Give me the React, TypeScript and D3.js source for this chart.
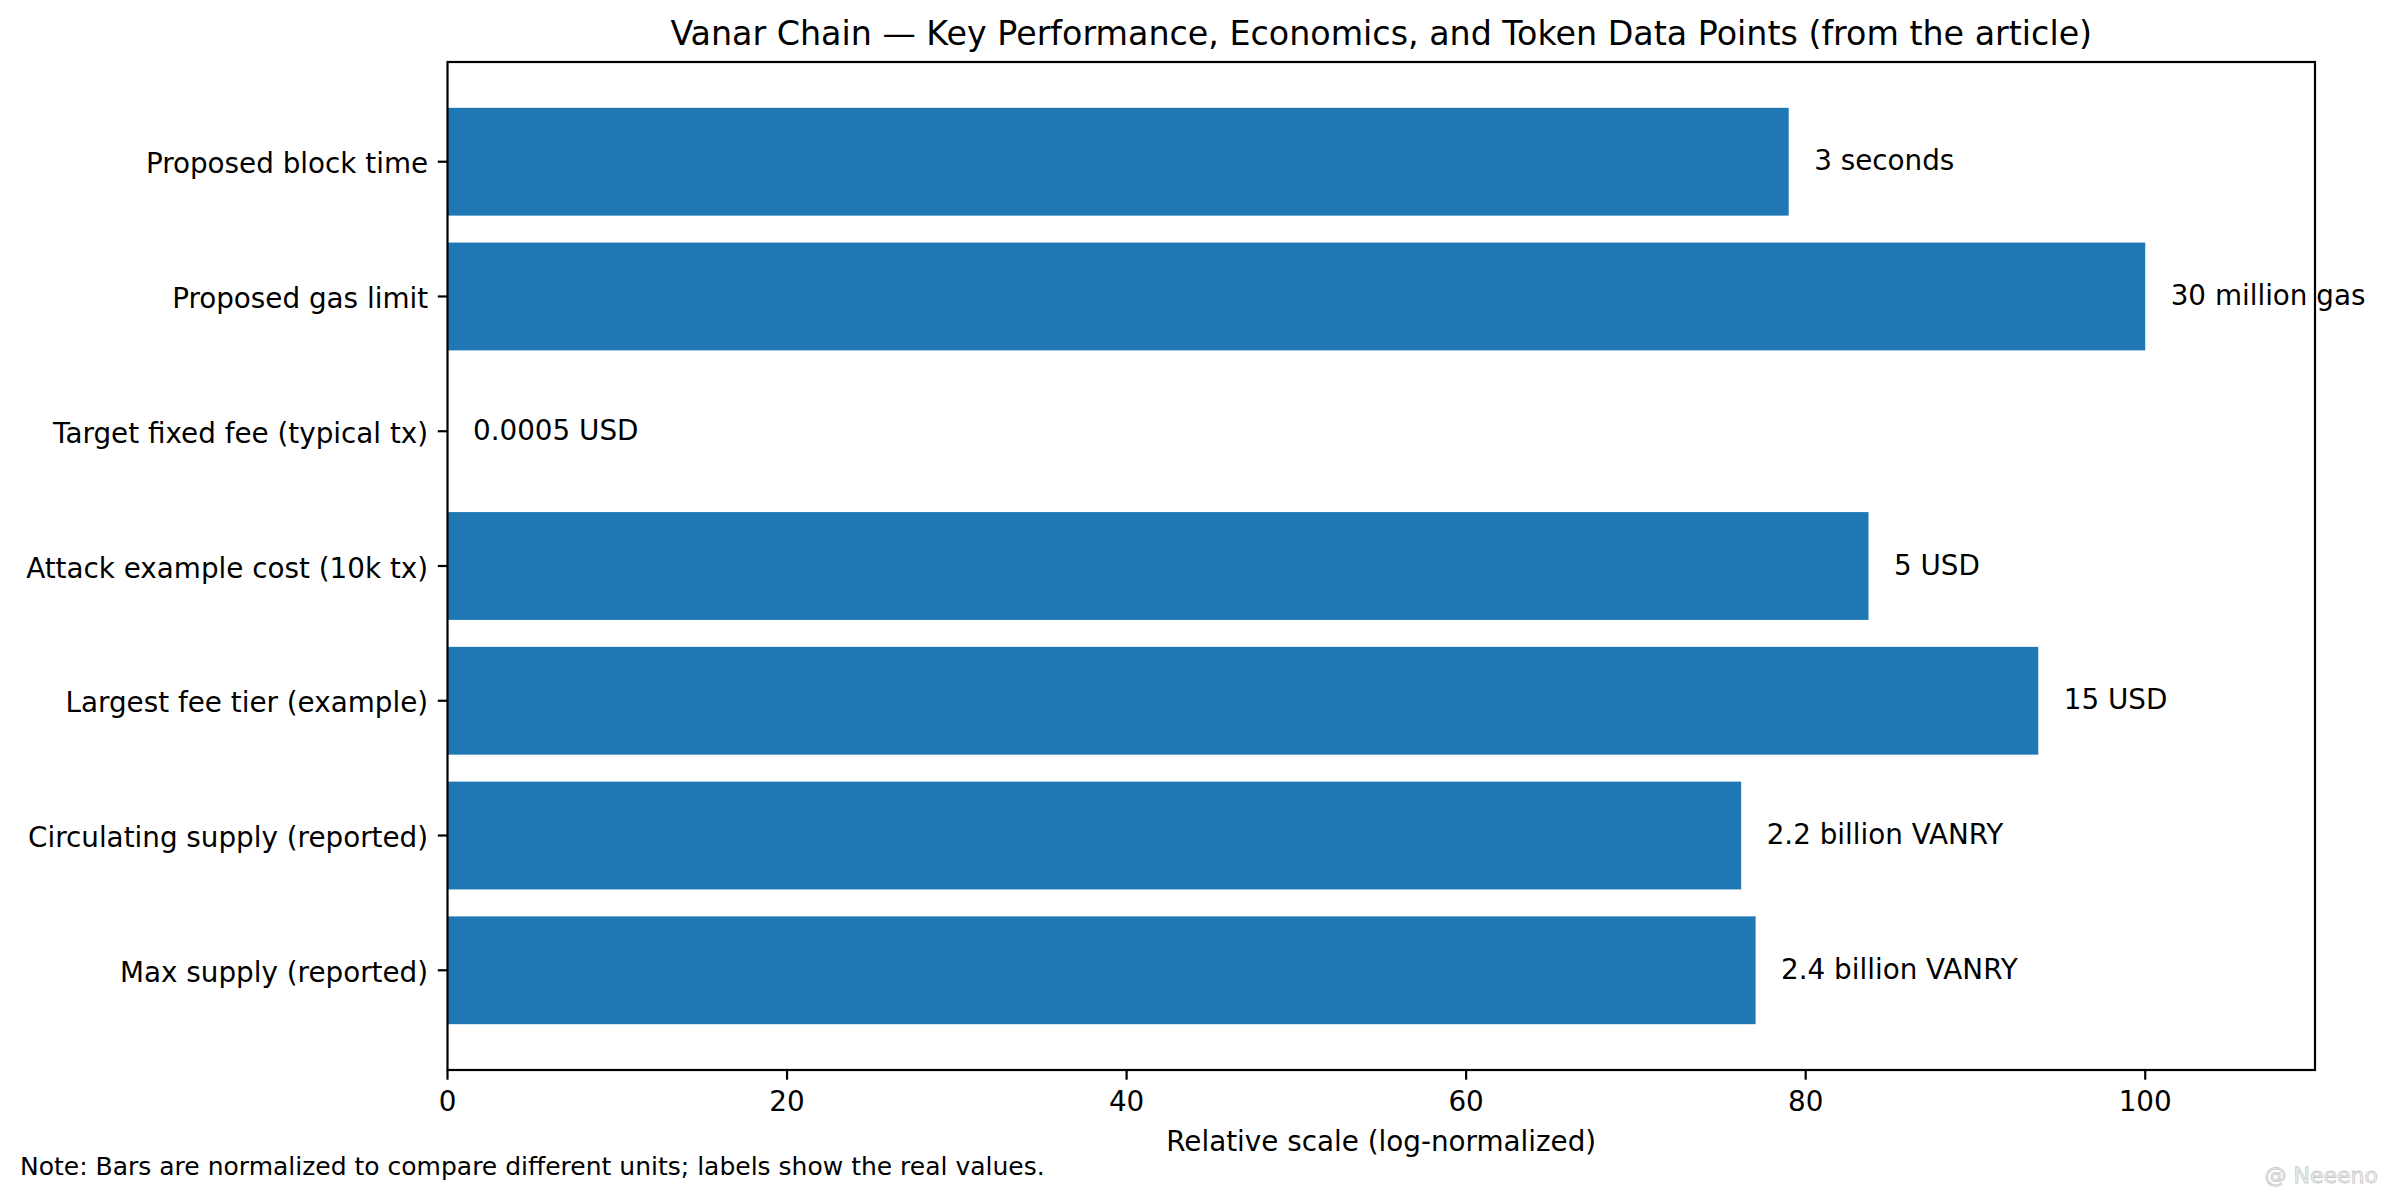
import React, { useEffect } from "react";
import * as d3 from "d3";

const categories = [
  "Proposed block time",
  "Proposed gas limit",
  "Target fixed fee (typical tx)",
  "Attack example cost (10k tx)",
  "Largest fee tier (example)",
  "Circulating supply (reported)",
  "Max supply (reported)",
];
const normValues = [79.0, 100, 0, 83.7, 93.7, 76.2, 77.05];
const valueLabels = [
  "3 seconds",
  "30 million gas",
  "0.0005 USD",
  "5 USD",
  "15 USD",
  "2.2 billion VANRY",
  "2.4 billion VANRY",
];
const xTicks = [0, 20, 40, 60, 80, 100];
const title = "Vanar Chain — Key Performance, Economics, and Token Data Points (from the article)";
const xLabel = "Relative scale (log-normalized)";
const note = "Note: Bars are normalized to compare different units; labels show the real values.";

const W = 2386;
const H = 1201;
const M = { left: 447.5, right: 2315, top: 62, bottom: 1070 };
const FONT = "'DejaVu Sans', sans-serif";
const FS = 27.8;
const LW = 2.2;
const TICK = 9.7;

export default function App() {
  useEffect(() => {
    document.body.style.margin = "0";
  }, []);

  const x = d3.scaleLinear().domain([0, 110]).range([M.left, M.right]);
  const y = d3.scaleLinear().domain([-0.74, 6.74]).range([M.top, M.bottom]);
  const barH = y(0.4) - y(-0.4);

  return (
    <svg width={W} height={H} viewBox={`0 0 ${W} ${H}`} style={{ display: "block", background: "#fff" }} fontFamily={FONT}>
      <rect x={0} y={0} width={W} height={H} fill="#fff" />
      {/* bars */}
      {normValues.map((v, i) => (
        <rect key={"b" + i} x={x(0)} y={y(i) - barH / 2} width={Math.max(0, x(v) - x(0))} height={barH} fill="#1f77b4" />
      ))}
      {/* value labels */}
      {normValues.map((v, i) => (
        <text key={"l" + i} x={x(v + 1.5)} y={y(i)} dy={FS * 0.31} fontSize={FS} fill="#000">
          {valueLabels[i]}
        </text>
      ))}
      {/* spines */}
      <rect x={M.left} y={M.top} width={M.right - M.left} height={M.bottom - M.top} fill="none" stroke="#000" strokeWidth={LW} />
      {/* y ticks */}
      {categories.map((c, i) => (
        <g key={"yt" + i}>
          <line x1={M.left - TICK} x2={M.left} y1={y(i)} y2={y(i)} stroke="#000" strokeWidth={LW} />
          <text x={M.left - TICK - 9.7} y={y(i)} dy={FS * 0.42} textAnchor="end" fontSize={FS} fill="#000">
            {c}
          </text>
        </g>
      ))}
      {/* x ticks */}
      {xTicks.map((t) => (
        <g key={"xt" + t}>
          <line x1={x(t)} x2={x(t)} y1={M.bottom} y2={M.bottom + TICK} stroke="#000" strokeWidth={LW} />
          <text x={x(t)} y={1111} textAnchor="middle" fontSize={FS} fill="#000">
            {t}
          </text>
        </g>
      ))}
      <text x={(M.left + M.right) / 2} y={1151} textAnchor="middle" fontSize={FS} fill="#000">
        {xLabel}
      </text>
      <text x={(M.left + M.right) / 2} y={45} textAnchor="middle" fontSize={33.3} fill="#000">
        {title}
      </text>
      <text x={20} y={1175} fontSize={25} fill="#000">
        {note}
      </text>
      <text x={2378} y={1183} textAnchor="end" fontSize={22} fill="#f4f4f4" stroke="#c8c8c8" strokeWidth={0.8} fontFamily="'DejaVu Sans', sans-serif">
        @ Neeeno
      </text>
    </svg>
  );
}
